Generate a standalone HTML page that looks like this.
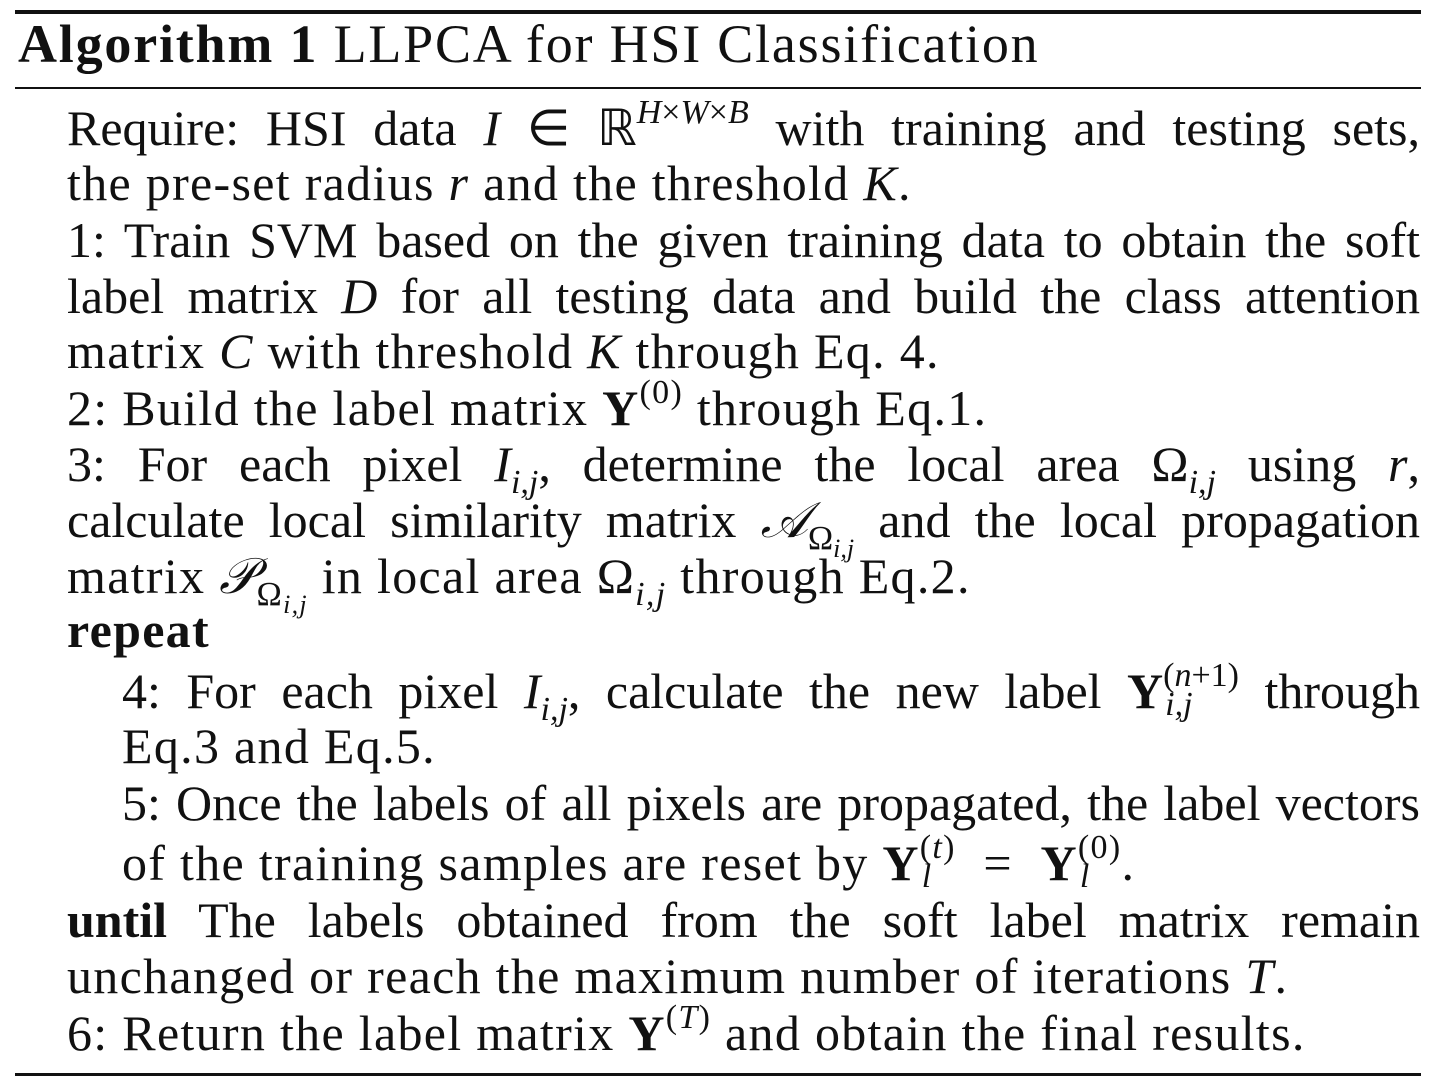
<!DOCTYPE html>
<html><head><meta charset="utf-8">
<style>
html,body{margin:0;padding:0;background:#fff;}
body{width:1435px;height:1085px;position:relative;overflow:hidden;font-family:"Liberation Serif",serif;color:#111;}
.rule{position:absolute;left:15px;width:1406px;background:#111;}
.ln{position:absolute;font-size:50px;line-height:56px;white-space:nowrap;letter-spacing:1.3px;}
.j{text-align:justify;text-align-last:justify;white-space:normal;letter-spacing:0;}
i{font-style:italic;}
.sp{font-size:34px;line-height:0;position:relative;top:-22px;}
.sb{font-size:34px;line-height:0;position:relative;top:12px;}
.st{display:inline-block;position:relative;line-height:0;}
.st .u{font-size:34px;position:relative;top:-22px;}
.st .d{font-size:34px;position:absolute;left:2px;top:14px;}
b{font-weight:bold;}
</style></head><body>
<div class="rule" style="top:10px;height:4px;"></div>
<div class="ln" style="left:18px;top:14px;font-size:54px;line-height:60px;letter-spacing:1.8px;"><b>Algorithm 1</b> LLPCA for HSI Classification</div>
<div class="rule" style="top:87px;height:2px;"></div>

<div class="ln j" style="left:67px;width:1353px;top:100px;">Require: HSI data <i>I</i> ∈ ℝ<span class="sp"><i>H</i>×<i>W</i>×<i>B</i></span> with training and testing sets,</div>
<div class="ln" style="left:67px;top:155px;">the pre-set radius <i>r</i> and the threshold <i>K</i>.</div>
<div class="ln j" style="left:67px;width:1353px;top:212px;">1: Train SVM based on the given training data to obtain the soft</div>
<div class="ln j" style="left:67px;width:1353px;top:268px;">label matrix <i>D</i> for all testing data and build the class attention</div>
<div class="ln" style="left:67px;top:323px;">matrix <i>C</i> with threshold <i>K</i> through Eq. 4.</div>
<div class="ln" style="left:67px;top:380px;">2: Build the label matrix <b>Y</b><span class="sp">(0)</span> through Eq.1.</div>
<div class="ln j" style="left:67px;width:1353px;top:436px;">3: For each pixel <i>I</i><span class="sb"><i>i,j</i></span>, determine the local area Ω<span class="sb"><i>i,j</i></span> using <i>r</i>,</div>
<div class="ln j" style="left:67px;width:1353px;top:492px;">calculate local similarity matrix <i>𝒜</i><span class="sb">Ω<span style="font-size:26px;position:relative;top:8px;"><i>i,j</i></span></span> and the local propagation</div>
<div class="ln" style="left:67px;top:548px;">matrix <i>𝒫</i><span class="sb">Ω<span style="font-size:26px;position:relative;top:8px;"><i>i,j</i></span></span> in local area Ω<span class="sb"><i>i,j</i></span> through Eq.2.</div>
<div class="ln" style="left:67px;top:602px;"><b>repeat</b></div>
<div class="ln j" style="left:122px;width:1298px;top:663px;">4: For each pixel <i>I</i><span class="sb"><i>i,j</i></span>, calculate the new label <b>Y</b><span class="st"><span class="u">(<i>n</i>+1)</span><span class="d"><i>i,j</i></span></span> through</div>
<div class="ln" style="left:122px;top:718px;">Eq.3 and Eq.5.</div>
<div class="ln j" style="left:122px;width:1298px;top:775px;">5: Once the labels of all pixels are propagated, the label vectors</div>
<div class="ln" style="left:122px;top:835px;">of the training samples are reset by <b>Y</b><span class="st"><span class="u">(<i>t</i>)</span><span class="d"><i>l</i></span></span>&nbsp; = &nbsp;<b>Y</b><span class="st"><span class="u">(0)</span><span class="d"><i>l</i></span></span>.</div>
<div class="ln j" style="left:67px;width:1353px;top:892px;"><b>until</b> The labels obtained from the soft label matrix remain</div>
<div class="ln" style="left:67px;top:948px;">unchanged or reach the maximum number of iterations <i>T</i>.</div>
<div class="ln" style="left:67px;top:1005px;">6: Return the label matrix <b>Y</b><span class="sp">(<i>T</i>)</span> and obtain the final results.</div>
<div class="rule" style="top:1073px;height:3px;"></div>
</body></html>
